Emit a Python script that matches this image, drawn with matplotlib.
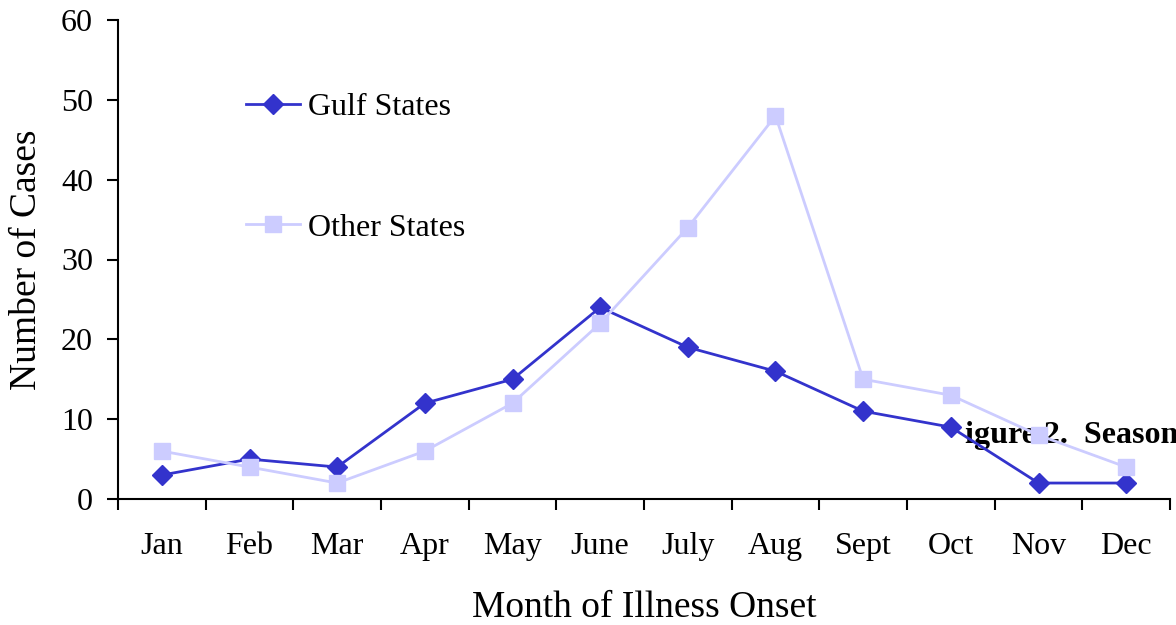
import numpy as np
import matplotlib
matplotlib.use("Agg")
import matplotlib.pyplot as plt

plt.rcParams['font.family'] = ['Liberation Serif', 'DejaVu Serif']

months = ["Jan", "Feb", "Mar", "Apr", "May", "June", "July", "Aug", "Sept", "Oct", "Nov", "Dec"]
gulf = [3, 5, 4, 12, 15, 24, 19, 16, 11, 9, 2, 2]
other = [6, 4, 2, 6, 12, 22, 34, 48, 15, 13, 8, 4]

fig = plt.figure(figsize=(11.76, 6.25), dpi=100)
ax = fig.add_axes([118/1176, 126/625, 1052/1176, 479/625])

x = np.arange(len(months)) + 0.5
ax.plot(x, gulf, color="#3333CC", lw=2, marker="D", ms=10, label="Gulf States", zorder=3)
fig.text(965/1176, 1 - 436/625, "igure 2.  Season", fontsize=23, fontweight="bold",
         va="center", ha="left", zorder=4)
ax.plot(x, other, color="#CCCCFF", lw=2, marker="s", ms=11, label="Other States", zorder=5)
ax.set_zorder(5)
ax.patch.set_visible(False)

ax.set_xlim(0, 12)
ax.set_ylim(0, 60)
ax.set_yticks(range(0, 61, 10))
ax.set_xticks(np.arange(13))
ax.set_xticklabels([])
ax.set_xticks(x, minor=True)
ax.set_xticklabels(months, minor=True)
ax.tick_params(axis="x", which="major", direction="out", length=8, width=1.5)
ax.tick_params(axis="x", which="minor", length=0, pad=24, labelsize=23)
ax.tick_params(axis="y", direction="out", length=8, width=1.5, pad=10, labelsize=23)
for s in ["top", "right"]:
    ax.spines[s].set_visible(False)
for s in ["left", "bottom"]:
    ax.spines[s].set_linewidth(1.5)

ax.set_xlabel("Month of Illness Onset", fontsize=27, labelpad=21)
ax.set_ylabel("Number of Cases", fontsize=27, labelpad=12)

leg = ax.legend(loc="upper left", bbox_to_anchor=(217/1176, 1 - 64/625),
                bbox_transform=fig.transFigure, frameon=False, fontsize=23,
                labelspacing=2.85, handlelength=1.7, handletextpad=0.25)

fig.savefig("out.png", dpi=100)
